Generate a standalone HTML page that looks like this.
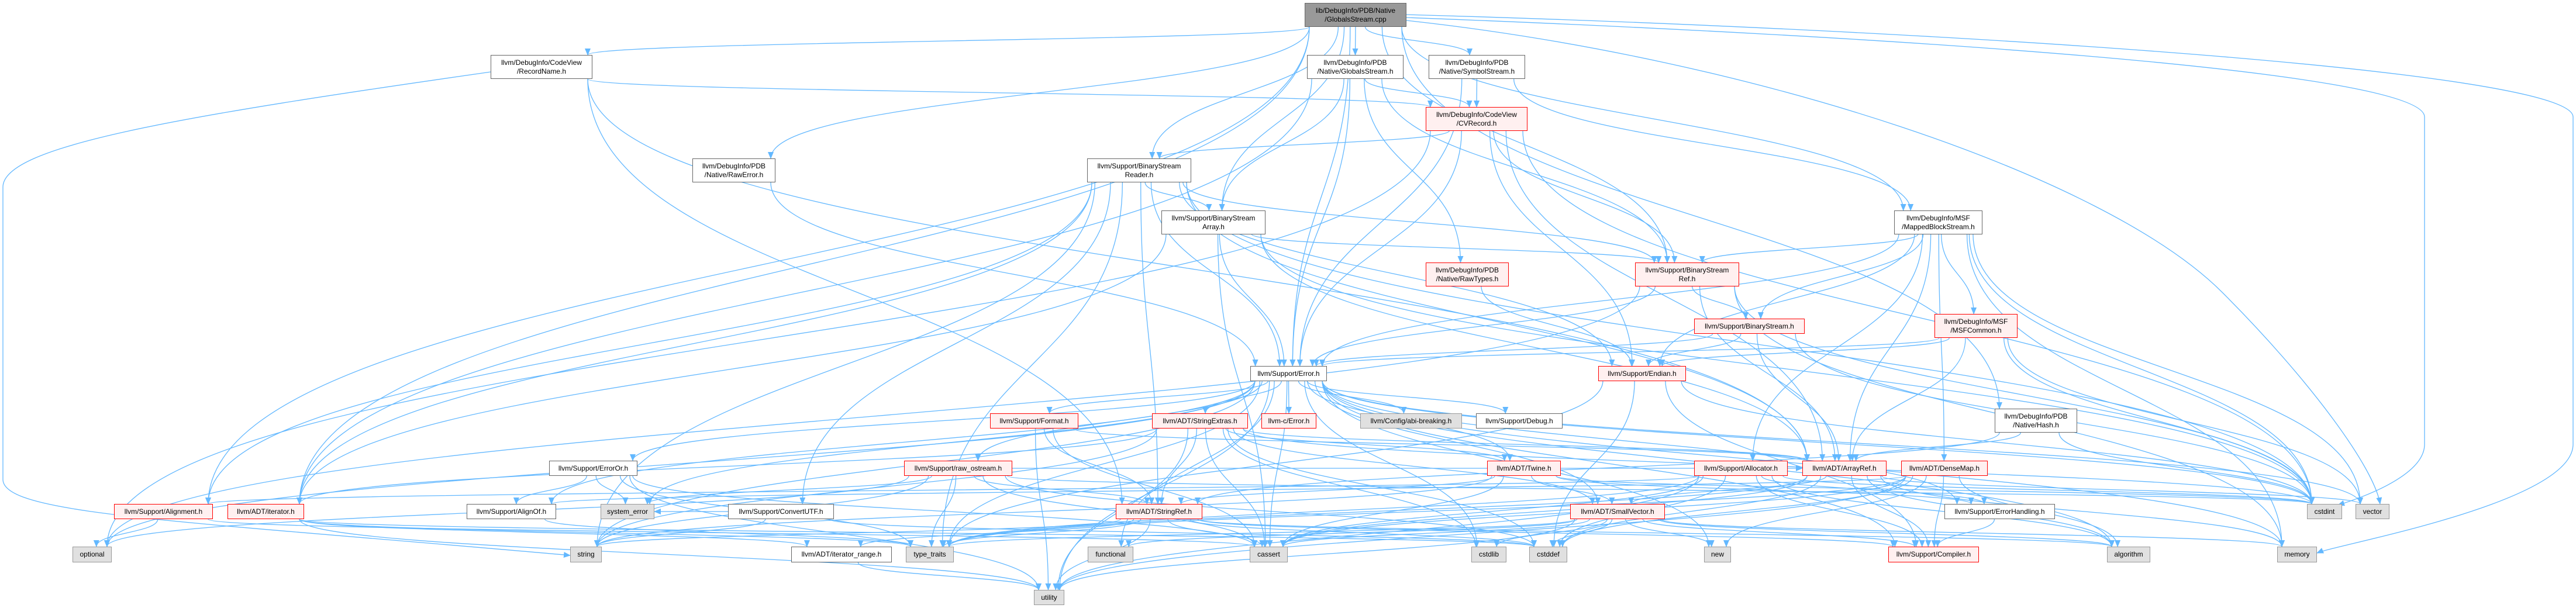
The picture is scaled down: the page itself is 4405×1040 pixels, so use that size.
<!DOCTYPE html>
<html><head><meta charset="utf-8">
<style>
html,body{margin:0;padding:0;background:#fff;}
#wrap{position:relative;width:4405px;height:1040px;overflow:hidden;background:#fff;}
svg{position:absolute;left:0;top:0;}
.n{position:absolute;box-sizing:border-box;border:1.5px solid #666;background:#fff;font-family:"Liberation Sans",Arial,sans-serif;font-size:12px;line-height:15px;color:#000;text-align:center;display:flex;flex-direction:column;justify-content:center;white-space:nowrap;z-index:2;}
.r{border-color:#ff0000;background:#fff0f0;}
.g{border-color:#999;background:#e0e0e0;}
.root{border-color:#666;background:#999;}
</style></head><body>
<div id="wrap">
<svg id="s" width="4405" height="1040" xmlns="http://www.w3.org/2000/svg">
<defs><marker id="a" markerWidth="12" markerHeight="10" refX="11" refY="5" orient="auto" markerUnits="userSpaceOnUse"><path d="M0,0 L12,5 L0,10 z" fill="#63b8ff"/></marker></defs>
<g id="e" fill="none" stroke="#63b8ff" stroke-width="1.3">
<path marker-end="url(#a)" d="M839,123 C300,200 5,250 5,320 L5,820 C5,880 300,890 975,950"/>
<path marker-end="url(#a)" d="M2405,30 C3200,60 4146,120 4146,200 L4146,760 C4146,820 4010,860 3998,864"/>
<path marker-end="url(#a)" d="M2405,25 C3300,50 4400,120 4400,200 L4400,760 C4400,860 4000,930 3962,946"/>
<path marker-end="url(#a)" d="M2405,35 C3000,100 3600,300 3800,500 C3950,650 4060,800 4070,862"/>
</g>
</svg>
<div class="n root" style="left:2231px;top:5px;width:174px;height:41px">lib/DebugInfo/PDB/Native<br>/GlobalsStream.cpp</div>
<div class="n" style="left:839px;top:94px;width:174px;height:41px">llvm/DebugInfo/CodeView<br>/RecordName.h</div>
<div class="n" style="left:2235px;top:94px;width:165px;height:41px">llvm/DebugInfo/PDB<br>/Native/GlobalsStream.h</div>
<div class="n" style="left:2443px;top:94px;width:165px;height:41px">llvm/DebugInfo/PDB<br>/Native/SymbolStream.h</div>
<div class="n r" style="left:2438px;top:183px;width:174px;height:41px">llvm/DebugInfo/CodeView<br>/CVRecord.h</div>
<div class="n" style="left:1184px;top:271px;width:142px;height:41px">llvm/DebugInfo/PDB<br>/Native/RawError.h</div>
<div class="n" style="left:1859px;top:271px;width:178px;height:41px">llvm/Support/BinaryStream<br>Reader.h</div>
<div class="n" style="left:1986px;top:360px;width:178px;height:41px">llvm/Support/BinaryStream<br>Array.h</div>
<div class="n" style="left:3239px;top:360px;width:151px;height:41px">llvm/DebugInfo/MSF<br>/MappedBlockStream.h</div>
<div class="n r" style="left:2438px;top:449px;width:142px;height:41px">llvm/DebugInfo/PDB<br>/Native/RawTypes.h</div>
<div class="n r" style="left:2796px;top:449px;width:178px;height:41px">llvm/Support/BinaryStream<br>Ref.h</div>
<div class="n r" style="left:3308px;top:537px;width:142px;height:41px">llvm/DebugInfo/MSF<br>/MSFCommon.h</div>
<div class="n r" style="left:2897px;top:545px;width:189px;height:26px">llvm/Support/BinaryStream.h</div>
<div class="n" style="left:2138px;top:626px;width:131px;height:26px">llvm/Support/Error.h</div>
<div class="n r" style="left:2733px;top:626px;width:150px;height:26px">llvm/Support/Endian.h</div>
<div class="n" style="left:3411px;top:699px;width:141px;height:41px">llvm/DebugInfo/PDB<br>/Native/Hash.h</div>
<div class="n r" style="left:1693px;top:707px;width:151px;height:26px">llvm/Support/Format.h</div>
<div class="n r" style="left:1970px;top:707px;width:164px;height:26px">llvm/ADT/StringExtras.h</div>
<div class="n r" style="left:2157px;top:707px;width:94px;height:26px">llvm-c/Error.h</div>
<div class="n g" style="left:2326px;top:707px;width:174px;height:26px">llvm/Config/abi-breaking.h</div>
<div class="n" style="left:2524px;top:707px;width:148px;height:26px">llvm/Support/Debug.h</div>
<div class="n" style="left:939px;top:788px;width:151px;height:26px">llvm/Support/ErrorOr.h</div>
<div class="n r" style="left:1546px;top:788px;width:185px;height:26px">llvm/Support/raw_ostream.h</div>
<div class="n r" style="left:2543px;top:788px;width:126px;height:26px">llvm/ADT/Twine.h</div>
<div class="n r" style="left:2897px;top:788px;width:160px;height:26px">llvm/Support/Allocator.h</div>
<div class="n r" style="left:3082px;top:788px;width:144px;height:26px">llvm/ADT/ArrayRef.h</div>
<div class="n r" style="left:3251px;top:788px;width:148px;height:26px">llvm/ADT/DenseMap.h</div>
<div class="n r" style="left:195px;top:862px;width:169px;height:26px">llvm/Support/Alignment.h</div>
<div class="n r" style="left:389px;top:862px;width:131px;height:26px">llvm/ADT/iterator.h</div>
<div class="n" style="left:798px;top:862px;width:153px;height:26px">llvm/Support/AlignOf.h</div>
<div class="n g" style="left:1027px;top:862px;width:92px;height:26px">system_error</div>
<div class="n" style="left:1245px;top:862px;width:181px;height:26px">llvm/Support/ConvertUTF.h</div>
<div class="n r" style="left:1908px;top:862px;width:148px;height:26px">llvm/ADT/StringRef.h</div>
<div class="n r" style="left:2685px;top:862px;width:162px;height:26px">llvm/ADT/SmallVector.h</div>
<div class="n" style="left:3325px;top:862px;width:189px;height:26px">llvm/Support/ErrorHandling.h</div>
<div class="n g" style="left:3945px;top:862px;width:60px;height:26px">cstdint</div>
<div class="n g" style="left:4028px;top:862px;width:58px;height:26px">vector</div>
<div class="n g" style="left:124px;top:935px;width:67px;height:27px">optional</div>
<div class="n g" style="left:975px;top:935px;width:54px;height:27px">string</div>
<div class="n" style="left:1353px;top:935px;width:172px;height:27px">llvm/ADT/iterator_range.h</div>
<div class="n g" style="left:1549px;top:935px;width:82px;height:27px">type_traits</div>
<div class="n g" style="left:1860px;top:935px;width:78px;height:27px">functional</div>
<div class="n g" style="left:2137px;top:935px;width:65px;height:27px">cassert</div>
<div class="n g" style="left:2516px;top:935px;width:60px;height:27px">cstdlib</div>
<div class="n g" style="left:2615px;top:935px;width:65px;height:27px">cstddef</div>
<div class="n g" style="left:2914px;top:935px;width:46px;height:27px">new</div>
<div class="n r" style="left:3229px;top:935px;width:155px;height:27px">llvm/Support/Compiler.h</div>
<div class="n g" style="left:3603px;top:935px;width:74px;height:27px">algorithm</div>
<div class="n g" style="left:3894px;top:935px;width:68px;height:27px">memory</div>
<div class="n g" style="left:1768px;top:1009px;width:52px;height:26px">utility</div>
</div>
<script>
var N={root:[2231,5,2405,46],rn:[839,94,1013,135],gsh:[2235,94,2400,135],ssh:[2443,94,2608,135],cvr:[2438,183,2612,223],rawerr:[1184,271,1326,312],bsr:[1859,271,2037,312],bsa:[1986,360,2164,400],mbs:[3239,360,3390,400],rawtypes:[2438,449,2580,489],bsref:[2796,449,2974,489],msfc:[3308,537,3450,578],bs:[2897,545,3086,571],err:[2138,626,2269,651],endian:[2733,626,2883,651],hash:[3411,699,3552,740],format:[1693,707,1844,733],strx:[1970,707,2134,733],lce:[2157,707,2251,733],abi:[2326,707,2500,733],debug:[2524,707,2672,733],erroror:[939,788,1090,814],rawos:[1546,788,1731,814],twine:[2543,788,2669,814],alloc:[2897,788,3057,814],aref:[3082,788,3226,814],dmap:[3251,788,3399,814],align:[195,862,364,888],iter:[389,862,520,888],alignof:[798,862,951,888],syserr:[1027,862,1119,888],cutf:[1245,862,1426,888],sref:[1908,862,2056,888],svec:[2685,862,2847,888],errh:[3325,862,3514,888],cstdint:[3945,862,4005,888],vector:[4028,862,4086,888],optional:[124,935,191,962],string:[975,935,1029,962],irange:[1353,935,1525,962],tt:[1549,935,1631,962],func:[1860,935,1938,962],cassert:[2137,935,2202,962],cstdlib:[2516,935,2576,962],cstddef:[2615,935,2680,962],"new":[2914,935,2960,962],compiler:[3229,935,3384,962],algo:[3603,935,3677,962],memory:[3894,935,3962,962],utility:[1768,1009,1820,1035]};
var E={
root:"rn rawerr bsr gsh ssh mbs err hash bsa bsref iter align",
rn:"cvr sref aref",
gsh:"cvr bsa err rawtypes iter bsref",
ssh:"cvr err mbs",
cvr:"bsr bsref endian aref err cstdint optional",
rawerr:"err",
bsr:"bsa bsref err align cutf endian aref sref tt cstdint iter string",
bsa:"bsref err iter aref cassert cstdint",
mbs:"bsref bs msfc alloc endian err aref dmap cstdint memory vector",
bsref:"bs aref err cstdint memory optional",
bs:"endian err aref cstdint",
msfc:"endian err aref cstdint vector",
hash:"aref sref cstdint",
rawtypes:"endian",
endian:"compiler cstddef cstdint tt",
err:"lce abi debug twine format strx rawos erroror alignof errh compiler algo cassert cstdint cstdlib func memory new optional string syserr tt utility vector svec",
format:"aref sref utility cassert",
strx:"aref svec sref twine iter cassert cstddef cstdint cstdlib string utility",
rawos:"aref sref cassert cstddef cstdint optional string syserr tt",
erroror:"alignof cassert syserr tt utility",
twine:"svec sref errh cassert cstdint string",
alloc:"align compiler errh algo cassert cstddef cstdint tt utility",
aref:"svec compiler algo cassert cstddef memory tt vector",
dmap:"alignof compiler algo cassert cstddef new tt utility",
svec:"compiler algo cassert cstddef cstdlib func memory new tt utility",
sref:"irange compiler algo cassert cstddef string tt utility",
iter:"irange cstddef tt utility",
align:"optional cassert",
cutf:"cstddef string syserr",
irange:"utility",
errh:"compiler",
alignof:"tt"
};
var g=document.getElementById('e'),s='';
function cl(v,a,b){return Math.max(a,Math.min(b,v));}
for(var a in E){E[a].split(' ').forEach(function(b){
var A=N[a],B=N[b];if(!A||!B)return;
var acx=(A[0]+A[2])/2,bcx=(B[0]+B[2])/2,d;
if(B[1]>A[3]+4){
var sx=cl(acx+(bcx-acx)*0.08,A[0]+8,A[2]-8),sy=A[3];
var tx=cl(bcx+(acx-bcx)*0.06,B[0]+8,B[2]-8),ty=B[1];
var h=(ty-sy)*0.5;
d='M'+sx+','+sy+' C'+sx+','+(sy+h)+' '+tx+','+(ty-h)+' '+tx+','+ty;
}else{
var acy=(A[1]+A[3])/2,bcy=(B[1]+B[3])/2;
var sx2=bcx>acx?A[2]:A[0],tx2=bcx>acx?B[0]:B[2];
d='M'+sx2+','+acy+' C'+((sx2+tx2)/2)+','+acy+' '+((sx2+tx2)/2)+','+bcy+' '+tx2+','+bcy;
}
s+='<path marker-end="url(#a)" d="'+d+'"/>';
});}
g.insertAdjacentHTML('beforeend',s);
</script>
</body></html>
